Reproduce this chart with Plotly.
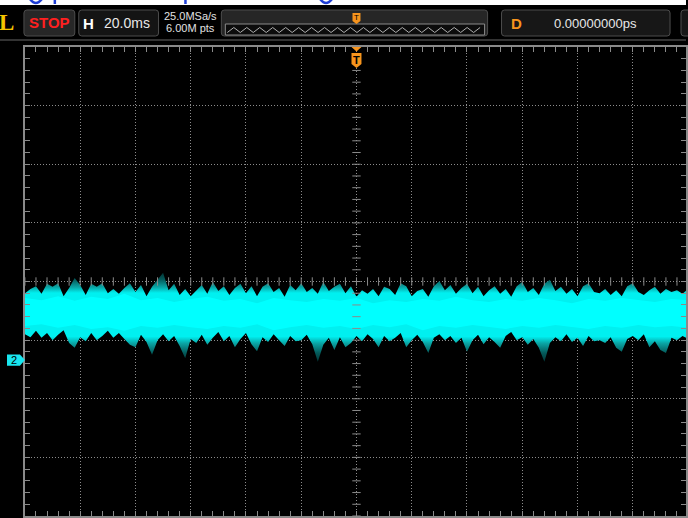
import plotly.graph_objects as go

W, H = 688, 518

# ---------------- data (screen divisions) ----------------
# envelope samples every 0.1 div, core samples every 0.3 div
t_env = [round(-6 + 0.1 * i, 1) for i in range(121)]
upper_outer = [-0.20, -0.13, -0.08, -0.21, -0.04, -0.09, -0.03, -0.25, -0.11, 0.06,
               -0.06, -0.23, -0.04, -0.09, -0.03, -0.20, -0.13, -0.21, -0.11, -0.03,
               -0.18, -0.06, -0.25, -0.09, 0.03, 0.15, -0.15, -0.04, -0.23, -0.13,
               -0.25, -0.15, -0.06, -0.21, -0.01, -0.16, -0.08, -0.23, -0.11, -0.04,
               -0.20, -0.08, -0.25, -0.09, -0.03, -0.18, -0.11, -0.26, -0.06, -0.15,
               -0.03, -0.18, -0.11, -0.21, -0.01, -0.16, -0.09, -0.04, -0.20, -0.08,
               -0.26, -0.15, -0.21, -0.13, -0.25, -0.09, -0.13, -0.23, -0.03, -0.08,
               -0.25, -0.16, -0.13, -0.26, -0.08, 0.01, -0.15, -0.06, -0.21, -0.11,
               -0.04, -0.20, -0.09, -0.25, -0.15, -0.08, -0.21, -0.13, -0.26, -0.08,
               -0.01, -0.18, -0.11, -0.23, -0.04, 0.03, -0.16, -0.09, -0.21, -0.13,
               -0.25, -0.08, -0.03, -0.18, -0.20, -0.13, -0.23, -0.15, -0.25, -0.08,
               -0.03, -0.18, -0.23, -0.15, -0.09, -0.21, -0.13, -0.18, -0.15, -0.21,
               -0.13]
lower_outer = [-0.90, -0.95, -0.84, -0.96, -0.88, -1.00, -0.91, -0.83, -1.05, -1.13,
               -0.95, -1.02, -0.88, -1.00, -0.93, -0.84, -0.96, -0.88, -0.98, -1.08,
               -1.12, -0.91, -1.03, -1.25, -1.00, -0.90, -1.02, -0.93, -1.10, -1.31,
               -0.98, -1.05, -0.91, -1.08, -0.96, -0.86, -1.02, -0.93, -1.12, -0.98,
               -0.88, -1.07, -1.19, -0.95, -1.03, -0.90, -1.00, -1.10, -0.93, -1.02,
               -1.00, -0.91, -1.07, -1.37, -1.08, -0.96, -1.17, -0.95, -1.12, -1.05,
               -0.93, -1.02, -0.90, -0.98, -1.12, -0.93, -1.02, -0.96, -0.88, -1.12,
               -1.00, -0.91, -1.03, -1.22, -0.96, -0.90, -1.00, -0.93, -1.05, -0.96,
               -1.20, -1.00, -0.91, -1.07, -0.95, -1.03, -1.13, -0.93, -0.86, -1.00,
               -0.95, -1.08, -0.98, -1.13, -1.37, -1.05, -0.95, -1.02, -0.90, -1.03,
               -0.96, -1.10, -0.93, -1.02, -1.00, -1.05, -0.95, -1.13, -1.20, -0.98,
               -0.93, -1.00, -0.90, -1.12, -1.02, -1.17, -1.22, -0.96, -1.00, -0.93,
               -0.98]
t_core = [round(-6 + 0.3 * i, 1) for i in range(41)]
upper_core = [-0.28, -0.32, -0.25, -0.33, -0.26, -0.30, -0.21, -0.32, -0.28, -0.35,
              -0.30, -0.26, -0.33, -0.30, -0.37, -0.28, -0.32, -0.35, -0.30, -0.33,
              -0.28, -0.37, -0.32, -0.35, -0.30, -0.33, -0.26, -0.32, -0.35, -0.30,
              -0.33, -0.28, -0.32, -0.37, -0.30, -0.33, -0.28, -0.32, -0.35, -0.30,
              -0.32]
lower_core = [-0.76, -0.73, -0.79, -0.74, -0.81, -0.78, -0.84, -0.76, -0.79, -0.74,
              -0.78, -0.81, -0.76, -0.79, -0.73, -0.83, -0.78, -0.74, -0.79, -0.76,
              -0.81, -0.74, -0.78, -0.73, -0.83, -0.76, -0.79, -0.74, -0.78, -0.81,
              -0.76, -0.79, -0.74, -0.78, -0.81, -0.76, -0.79, -0.74, -0.78, -0.76,
              -0.79]

ch2_offset_div = -1.34
trigger_pos_div = 0.0

hdr_stop = "STOP"
hdr_h = "H"
hdr_timebase = "20.0ms"
hdr_rate = "25.0MSa/s"
hdr_depth = "6.00M pts"
hdr_d = "D"
hdr_delay = "0.00000000ps"

# ---------------- geometry ----------------
L_PX, TOP_PX, BOT_PX = 25, 47, 516
DIV_X = 55.42
X_RANGE = [-6, -6 + (W - L_PX) / DIV_X]
Y_RANGE = [-4, 4]


def px(x):
    return x / W


def py(y):
    return 1 - y / H


def rrect(x0, y0, x1, y1, r=3):
    a, b, c, d = px(x0), py(y0), px(x1), py(y1)
    rx, ry = r / W, r / H
    return (f"M {a+rx},{b} L {c-rx},{b} Q {c},{b} {c},{b-ry} L {c},{d+ry} "
            f"Q {c},{d} {c-rx},{d} L {a+rx},{d} Q {a},{d} {a},{d+ry} "
            f"L {a},{b-ry} Q {a},{b} {a+rx},{b} Z")


fig = go.Figure()

# signal: outer envelope with intensity gradient
fig.add_trace(go.Scatter(
    x=t_env + t_env[::-1], y=upper_outer + lower_outer[::-1],
    mode="lines", fill="toself", line=dict(width=0),
    fillgradient=dict(type="vertical", start=-1.45, stop=0.2,
                      colorscale=[[0, "#012424"], [0.14, "#045a5a"], [0.24, "#0aa5a5"],
                                  [0.31, "#00f0f0"], [0.76, "#00f0f0"], [0.82, "#0aa5a5"],
                                  [0.90, "#045a5a"], [1, "#012424"]]),
    hoverinfo="skip", showlegend=False))
fig.add_trace(go.Scatter(
    x=t_core + t_core[::-1], y=upper_core + lower_core[::-1],
    mode="lines", fill="toself", line=dict(width=0), fillcolor="#00ffff",
    hoverinfo="skip", showlegend=False))

# center-axis ticks
tick_col = "#8a8a8a"
cx = [round(-6 + 0.2 * i, 2) for i in range(61)]
cy = [round(-4 + 0.2 * i, 2) for i in range(41)]
fig.add_trace(go.Scatter(x=cx, y=[0] * len(cx), mode="markers",
                         marker=dict(symbol="line-ns-open", size=6, color=tick_col,
                                     line=dict(color=tick_col, width=1)),
                         hoverinfo="skip", showlegend=False))
fig.add_trace(go.Scatter(x=[0] * len(cy), y=cy, mode="markers",
                         marker=dict(symbol="line-ew-open", size=6, color=tick_col,
                                     line=dict(color=tick_col, width=1)),
                         hoverinfo="skip", showlegend=False))

shapes = []
ann = []

# white page strip (with cut-off blue text strokes) and separator line
shapes.append(dict(type="rect", xref="paper", yref="paper", x0=0, x1=1,
                   y0=py(5), y1=1, fillcolor="white", line=dict(width=0)))
blue = "#1f3fd6"
for (a0, a1, kind) in [(30, 42, "u"), (55, 57, "i"), (186, 188, "i"), (321, 333, "u")]:
    if kind == "u":
        p = f"M {px(a0)},{py(-1)} Q {px((a0+a1)/2)},{py(7)} {px(a1)},{py(-1)}"
    else:
        p = f"M {px(a0)},{py(-1)} L {px(a0)},{py(4)}"
    shapes.append(dict(type="path", xref="paper", yref="paper", path=p,
                       line=dict(color=blue, width=2.5)))
shapes.append(dict(type="line", xref="paper", yref="paper", x0=0, x1=1,
                   y0=py(40), y1=py(40), line=dict(color="#333333", width=2)))

for (x0, x1, fc) in [(24, 75, "#272727"), (79, 159, "#141414"), (222, 489, "#262626"),
                     (503, 672, "#171717"), (683, 720, "#171717")]:
    shapes.append(dict(type="path", xref="paper", yref="paper",
                       path=rrect(x0, 10, x1, 36), fillcolor=fc,
                       line=dict(color="#4d4d4d", width=1)))
# waveform overview strip
shapes.append(dict(type="rect", xref="paper", yref="paper", x0=px(226), x1=px(486),
                   y0=py(35), y1=py(24), fillcolor="#0c0c0c",
                   line=dict(color="#8a8a8a", width=1)))
zz = []
xx = 228
k = 0
while xx <= 484:
    zz.append((xx, 27.5 if k % 2 else 32.5))
    xx += 6.5
    k += 1
path = "M " + " L ".join(f"{px(a)},{py(b)}" for a, b in zz)
shapes.append(dict(type="path", xref="paper", yref="paper", path=path,
                   line=dict(color="#b0b0b0", width=1)))

# trigger markers (orange)
tx = L_PX + (trigger_pos_div - X_RANGE[0]) * DIV_X
orange = "#f7941d"
shapes.append(dict(type="path", xref="paper", yref="paper",
                   path=f"M {px(tx-4)},{py(13)} L {px(tx+4)},{py(13)} L {px(tx+4)},{py(21)} "
                        f"L {px(tx)},{py(24)} L {px(tx-4)},{py(21)} Z",
                   fillcolor=orange, line=dict(width=0)))
shapes.append(dict(type="path", xref="paper", yref="paper",
                   path=f"M {px(tx-5)},{py(47)} L {px(tx+5)},{py(47)} L {px(tx)},{py(51.5)} Z",
                   fillcolor=orange, line=dict(width=0)))
shapes.append(dict(type="path", xref="paper", yref="paper",
                   path=f"M {px(tx-5)},{py(53)} L {px(tx+5)},{py(53)} L {px(tx+5)},{py(64)} "
                        f"L {px(tx)},{py(68)} L {px(tx-5)},{py(64)} Z",
                   fillcolor=orange, line=dict(width=0)))
ann.append(dict(x=px(tx), y=py(59.5), text="<b>T</b>",
                font=dict(family="Liberation Sans", size=11, color="#000")))
ann.append(dict(x=px(tx), y=py(17.5), text="T",
                font=dict(family="Liberation Sans", size=8, color="#000")))

# channel 2 marker
cyan = "#19e6ef"
shapes.append(dict(type="path", xref="paper", yref="y",
                   path=(f"M {px(7)},{ch2_offset_div+0.095} L {px(20)},{ch2_offset_div+0.095} "
                         f"L {px(25)},{ch2_offset_div} L {px(20)},{ch2_offset_div-0.095} "
                         f"L {px(7)},{ch2_offset_div-0.095} Z"),
                   fillcolor=cyan, line=dict(width=0)))
ann.append(dict(x=px(14.5), y=ch2_offset_div, yref="y", text="2",
                font=dict(family="Liberation Sans", size=11, color="#000")))

# header texts
ann += [
    dict(x=px(7), y=py(22), text="<b>L</b>",
         font=dict(family="Liberation Serif", size=23, color="#f5c400")),
    dict(x=px(50), y=py(22.5), text=f"<b>{hdr_stop}</b>",
         font=dict(family="Liberation Sans", size=15, color="#ff2020")),
    dict(x=px(88.5), y=py(23), text=f"<b>{hdr_h}</b>",
         font=dict(family="Liberation Sans", size=15, color="#ffffff")),
    dict(x=px(127), y=py(23), text=hdr_timebase,
         font=dict(family="Liberation Sans", size=14, color="#e8e8e8")),
    dict(x=px(191), y=py(16.5), text=hdr_rate,
         font=dict(family="Liberation Sans Narrow, Liberation Sans", size=11, color="#e0e0e0")),
    dict(x=px(191), y=py(28), text=hdr_depth,
         font=dict(family="Liberation Sans Narrow, Liberation Sans", size=11, color="#e0e0e0")),
    dict(x=px(518), y=py(23), text=f"<b>{hdr_d}</b>",
         font=dict(family="Liberation Sans", size=15, color=orange)),
    dict(x=px(597), y=py(23), text=hdr_delay,
         font=dict(family="Liberation Sans", size=13, color="#e8e8e8")),
]
for a in ann:
    a.setdefault("xref", "paper")
    a.setdefault("yref", "paper")
    a["showarrow"] = False
    a["xanchor"] = "center"
    a["yanchor"] = "middle"

grid_col = "#8c8c8c"
axis_col = "#8a8a8a"
common = dict(showgrid=True, dtick=1, tick0=0, gridcolor=grid_col, griddash="1px,2px",
              gridwidth=1, zeroline=False, showline=True, linecolor=axis_col, linewidth=2,
              mirror="ticks", ticks="inside", ticklen=5, tickcolor=axis_col, tickwidth=1,
              minor=dict(dtick=0.2, tick0=0, ticks="inside", ticklen=5,
                         tickcolor=axis_col, tickwidth=1, showgrid=False),
              showticklabels=False, fixedrange=True)
fig.update_layout(
    width=W, height=H, margin=dict(l=0, r=0, t=0, b=0),
    paper_bgcolor="#000", plot_bgcolor="#000",
    shapes=shapes, annotations=ann, showlegend=False,
    xaxis=dict(domain=[px(L_PX), 1], range=X_RANGE, **common),
    yaxis=dict(domain=[py(BOT_PX), py(TOP_PX)], range=Y_RANGE, **common),
)

fig.write_html("out.html", config=dict(displayModeBar=False, staticPlot=True),
               post_script="document.body.style.margin='0';")
